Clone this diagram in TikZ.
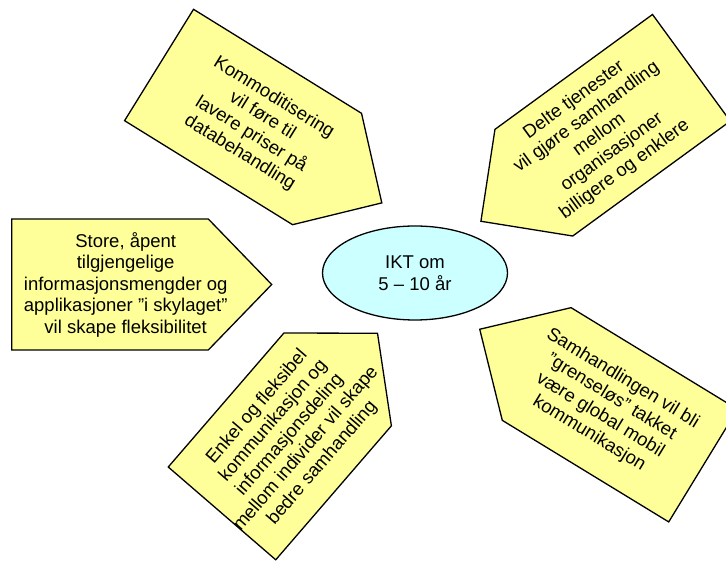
\documentclass[tikz,border=0pt]{standalone}
\usepackage{fontspec}
\setmainfont{Liberation Sans}
\usetikzlibrary{shapes.geometric}
\definecolor{plateyellow}{HTML}{FFFF99}
\definecolor{ellcyan}{HTML}{CCFFFF}
\tikzset{
  plate/.style={draw=black, line width=1.3pt, fill=plateyellow, line join=miter},
  platetext/.style={align=center, font=\fontsize{18.5}{21.5}\selectfont, inner sep=0pt},
}
\begin{document}
\begin{tikzpicture}[x=1pt,y=1pt]
\useasboundingbox (0,0) rectangle (726,562);
\clip (0,0) rectangle (726,562);
% P1 top
\begin{scope}[shift={(159.05,497.0)}, rotate=-31.76]
  \draw[plate] (0,-65.5) -- (197.6,-65.5) -- (262,0) -- (197.6,65.5) -- (0,65.5) -- cycle;
  \node[platetext, rotate=-31.76] (t1) at (114.9,0) {Kommoditisering\\vil føre til\\lavere priser på\\databehandling};
\end{scope}
% P2 top right
\begin{scope}[shift={(691.4,494.2)}, rotate=216.1]
  \draw[plate] (0,-66) -- (195,-66) -- (260.5,0) -- (195,66) -- (0,66) -- cycle;
  \node[platetext, rotate=36.1] (t2) at (113.9,0) {Delte tjenester\\vil gjøre samhandling\\mellom\\organisasjoner\\billigere og enklere};
\end{scope}
% P3 left
\begin{scope}[shift={(11.7,277.5)}]
  \draw[plate] (0,-65.5) -- (196.6,-65.5) -- (260,0) -- (196.6,65.5) -- (0,65.5) -- cycle;
  \node[platetext] (t3) at (114,0) {Store, åpent\\tilgjengelige\\informasjonsmengder og\\applikasjoner ”i skylaget”\\vil skape fleksibilitet};
\end{scope}
% P4 bottom left
\begin{scope}[shift={(222,48.6)}, rotate=49.2]
  \draw[plate] (0,-71) -- (177,-71) -- (238,0) -- (177,71) -- (0,71) -- cycle;
  \node[platetext, rotate=49.2] (t4) at (103.75,0) {Enkel og fleksibel\\kommunikasjon og\\informasjonsdeling\\mellom individer vil skape\\bedre samhandling};
\end{scope}
% P5 bottom right
\begin{scope}[shift={(703.1,96.4)}, rotate=148.6]
  \draw[plate] (0,-66) -- (195,-66) -- (261.7,0) -- (195,66) -- (0,66) -- cycle;
  \node[platetext, rotate=-31.4] (t5) at (113.9,0) {Samhandlingen vil bli\\”grenseløs” takket\\være global mobil\\kommunikasjon};
\end{scope}
% centre
\node[ellipse, draw=black, line width=1.3pt, fill=ellcyan, minimum width=185pt, minimum height=94pt, inner sep=0pt,
      align=center, font=\fontsize{18.5}{21.5}\selectfont] (c) at (415,289) {IKT om\\5 – 10 år};
\end{tikzpicture}
\end{document}
